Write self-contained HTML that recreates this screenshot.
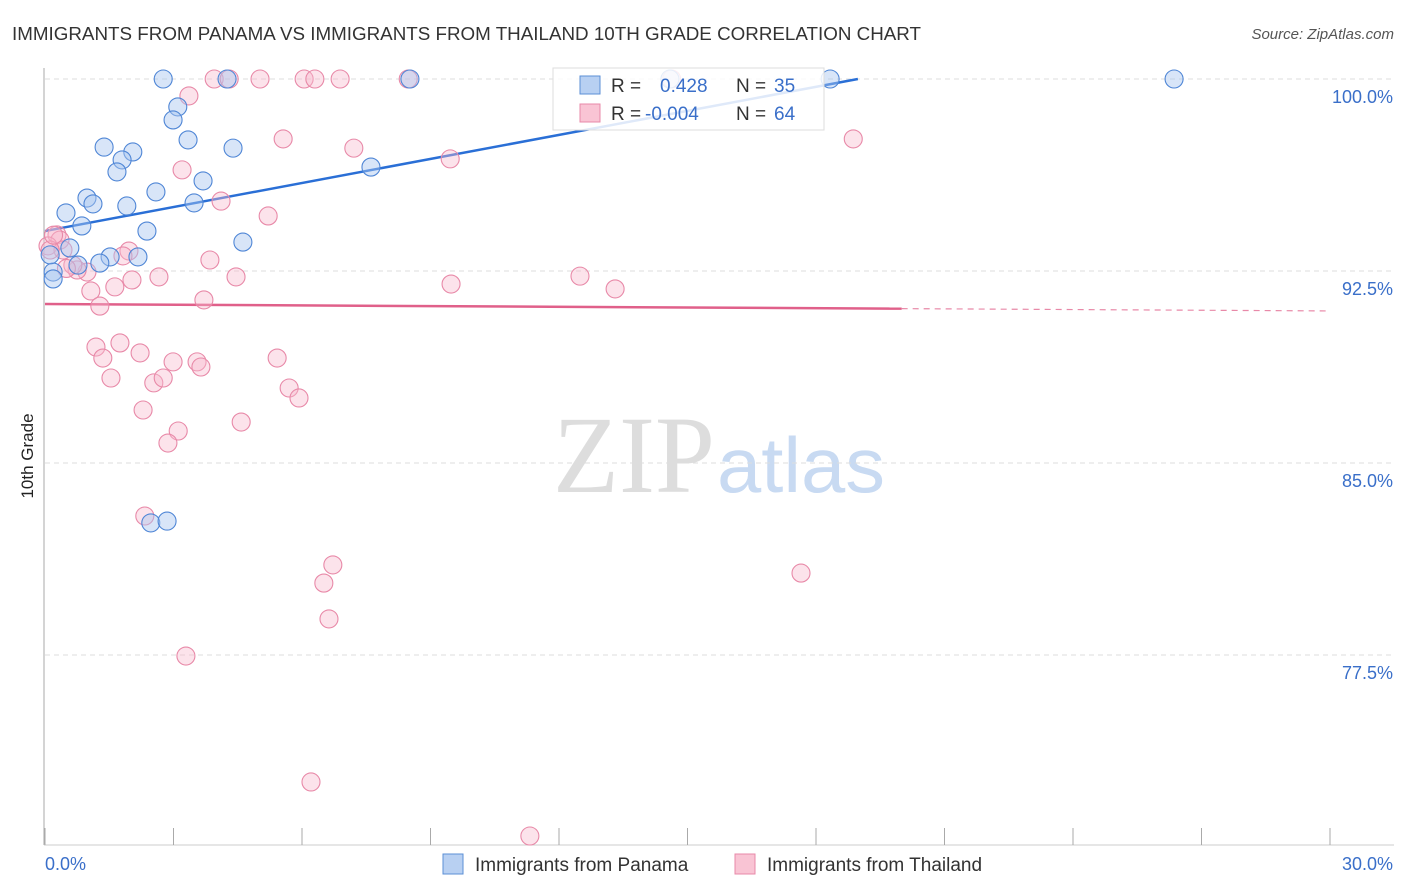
<!DOCTYPE html>
<html><head><meta charset="utf-8"><style>
body{margin:0;background:#fff;font-family:"Liberation Sans",sans-serif;}
svg{display:block}
</style></head><body>
<svg id="chart" width="1406" height="892">
<text x="12" y="40" font-size="18" fill="#333" textLength="909" lengthAdjust="spacingAndGlyphs">IMMIGRANTS FROM PANAMA VS IMMIGRANTS FROM THAILAND 10TH GRADE CORRELATION CHART</text>
<text x="1394" y="39" font-size="15" fill="#555" font-style="italic" text-anchor="end">Source: ZipAtlas.com</text>
<text transform="translate(33,456) rotate(-90)" font-size="17" fill="#222" text-anchor="middle">10th Grade</text>
<text x="553" y="492" font-size="110" fill="#ddd" font-family="Liberation Serif,serif" textLength="162" lengthAdjust="spacingAndGlyphs">ZIP</text>
<text x="717" y="492" font-size="78" fill="#c8daf2" textLength="168" lengthAdjust="spacingAndGlyphs">atlas</text>
<g id="grid"></g><g id="axes"></g><g id="trend"></g><g id="pts"></g>
<g>
<rect x="553" y="68" width="271" height="62" fill="#fff" fill-opacity="0.85" stroke="#ddd"/>
<rect x="580" y="76" width="20" height="18" fill="#b8d0f2" stroke="#5b8fd6"/>
<rect x="580" y="104" width="20" height="18" fill="#f9c4d4" stroke="#e889a8"/>
<text x="611" y="92" font-size="19" fill="#333">R =</text><text x="660" y="92" font-size="19" fill="#3a6fc9">0.428</text>
<text x="736" y="92" font-size="19" fill="#333">N =</text><text x="774" y="92" font-size="19" fill="#3a6fc9">35</text>
<text x="611" y="120" font-size="19" fill="#333">R =</text><text x="645" y="120" font-size="19" fill="#3a6fc9">-0.004</text>
<text x="736" y="120" font-size="19" fill="#333">N =</text><text x="774" y="120" font-size="19" fill="#3a6fc9">64</text>
</g>
<g>
<rect x="443" y="854" width="20" height="20" fill="#b8d0f2" stroke="#5b8fd6"/>
<text x="475" y="871" font-size="19" fill="#333">Immigrants from Panama</text>
<rect x="735" y="854" width="20" height="20" fill="#f9c4d4" stroke="#e889a8"/>
<text x="767" y="871" font-size="19" fill="#333">Immigrants from Thailand</text>
</g>
</svg>
<script>
const yTicks=[100,92.5,85,77.5];
const yTickLabels=["100.0%","92.5%","85.0%","77.5%"];
const xTickLabels=["0.0%","30.0%"];
const panamaX=[2.76,4.25,8.52,14.59,18.33,26.36,3.1,2.99,3.34,1.38,4.39,2.05,1.8,1.68,3.69,2.59,0.98,1.12,1.91,3.48,0.49,0.86,2.38,4.62,0.58,1.52,2.17,1.28,0.77,0.19,0.19,2.47,2.85,7.61,0.12];
const panamaY=[100,100,100,100,100,100,98.91,98.4,97.62,97.34,97.3,97.15,96.84,96.37,96.02,95.59,95.35,95.12,95.04,95.16,94.77,94.26,94.06,93.63,93.4,93.05,93.05,92.81,92.73,92.46,92.19,82.66,82.73,96.56,93.13];
const thaiX=[3.95,4.3,5.02,6.05,6.3,6.89,8.48,14.63,3.36,5.56,7.21,9.46,18.87,3.2,4.11,5.21,0.28,0.35,0.07,0.42,1.96,1.82,3.85,0.98,0.75,0.65,1.63,1.07,2.03,2.66,4.46,9.48,12.49,13.31,1.28,3.71,1.19,1.75,1.35,2.22,2.99,3.55,3.64,1.54,2.54,2.76,5.42,5.7,5.93,2.29,4.58,3.11,2.87,2.33,17.65,6.72,6.51,6.63,3.29,6.21,11.32,0.12,0.2,0.5];
const thaiY=[100,100,100,100,100,100,100,100,99.34,97.66,97.3,96.88,97.66,96.45,95.23,94.65,93.91,93.71,93.48,93.32,93.28,93.09,92.93,92.46,92.54,92.73,91.88,91.72,92.15,92.27,92.27,91.99,92.3,91.8,91.13,91.37,89.53,89.69,89.1,89.3,88.95,88.95,88.75,88.32,88.13,88.32,89.1,87.93,87.54,87.07,86.6,86.25,85.78,82.93,80.7,81.02,80.31,78.91,77.46,72.54,70.43,93.32,93.9,92.6];
const panamaTrend=[94.06,0.313];
const thaiTrend=[91.21,-0.009];
const NS="http://www.w3.org/2000/svg";
const X=v=>45+v/30*1285, Y=v=>79+(100-v)*25.6;
function mk(t,a,p){const e=document.createElementNS(NS,t);for(const k in a)e.setAttribute(k,a[k]);p.appendChild(e);return e;}
const grid=document.getElementById('grid'),axes=document.getElementById('axes'),tr=document.getElementById('trend'),pts=document.getElementById('pts');
yTicks.forEach((v,i)=>{
 const l=mk('line',{x1:45,x2:1394,y1:Y(v),y2:Y(v),stroke:'#ddd','stroke-dasharray':'5,4'},grid);
 
 
 const t=mk('text',{x:1393,y:Y(v)+24,'font-size':18,fill:'#3a6fc9','text-anchor':'end'},axes);
 t.textContent=yTickLabels[i];
 
 
});
const ax=mk('line',{x1:44,x2:44,y1:68,y2:845,stroke:'#aaa'},axes);


const bx=mk('line',{x1:44,x2:1394,y1:845,y2:845,stroke:'#ccc'},axes);


for(let i=0;i<=10;i++){
 const tk=mk('line',{x1:X(i*3),x2:X(i*3),y1:828,y2:845,stroke:'#aaa'},axes);
 
 
}
const xl0=mk('text',{x:45,y:870,'font-size':18,fill:'#3a6fc9'},axes);xl0.textContent=xTickLabels[0];


const xl1=mk('text',{x:1393,y:870,'font-size':18,fill:'#3a6fc9','text-anchor':'end'},axes);xl1.textContent=xTickLabels[1];


const bEnd=Math.min(30,(100-panamaTrend[0])/panamaTrend[1]);
const bl=mk('line',{x1:X(0),y1:Y(panamaTrend[0]),x2:X(bEnd),y2:Y(panamaTrend[0]+panamaTrend[1]*bEnd),stroke:'#2a6fd6','stroke-width':2.5},tr);


const pl=mk('line',{x1:X(0),y1:Y(thaiTrend[0]),x2:X(20),y2:Y(thaiTrend[0]+thaiTrend[1]*20),stroke:'#e0608a','stroke-width':2.5},tr);


const pd=mk('line',{x1:X(20),y1:Y(thaiTrend[0]+thaiTrend[1]*20),x2:X(30),y2:Y(thaiTrend[0]+thaiTrend[1]*30),stroke:'#e889a8','stroke-width':1.2,'stroke-dasharray':'6,5'},tr);


thaiX.forEach((x,i)=>{
 const c=mk('circle',{cx:X(x),cy:Y(thaiY[i]),r:9,fill:'#f7b9cc','fill-opacity':0.4,stroke:'#e889a8','stroke-width':1.1},pts);
 
 
});
panamaX.forEach((x,i)=>{
 const c=mk('circle',{cx:X(x),cy:Y(panamaY[i]),r:9,fill:'#a9c6ef','fill-opacity':0.45,stroke:'#4f86d6','stroke-width':1.1},pts);
 
 
});
</script>
</body></html>
